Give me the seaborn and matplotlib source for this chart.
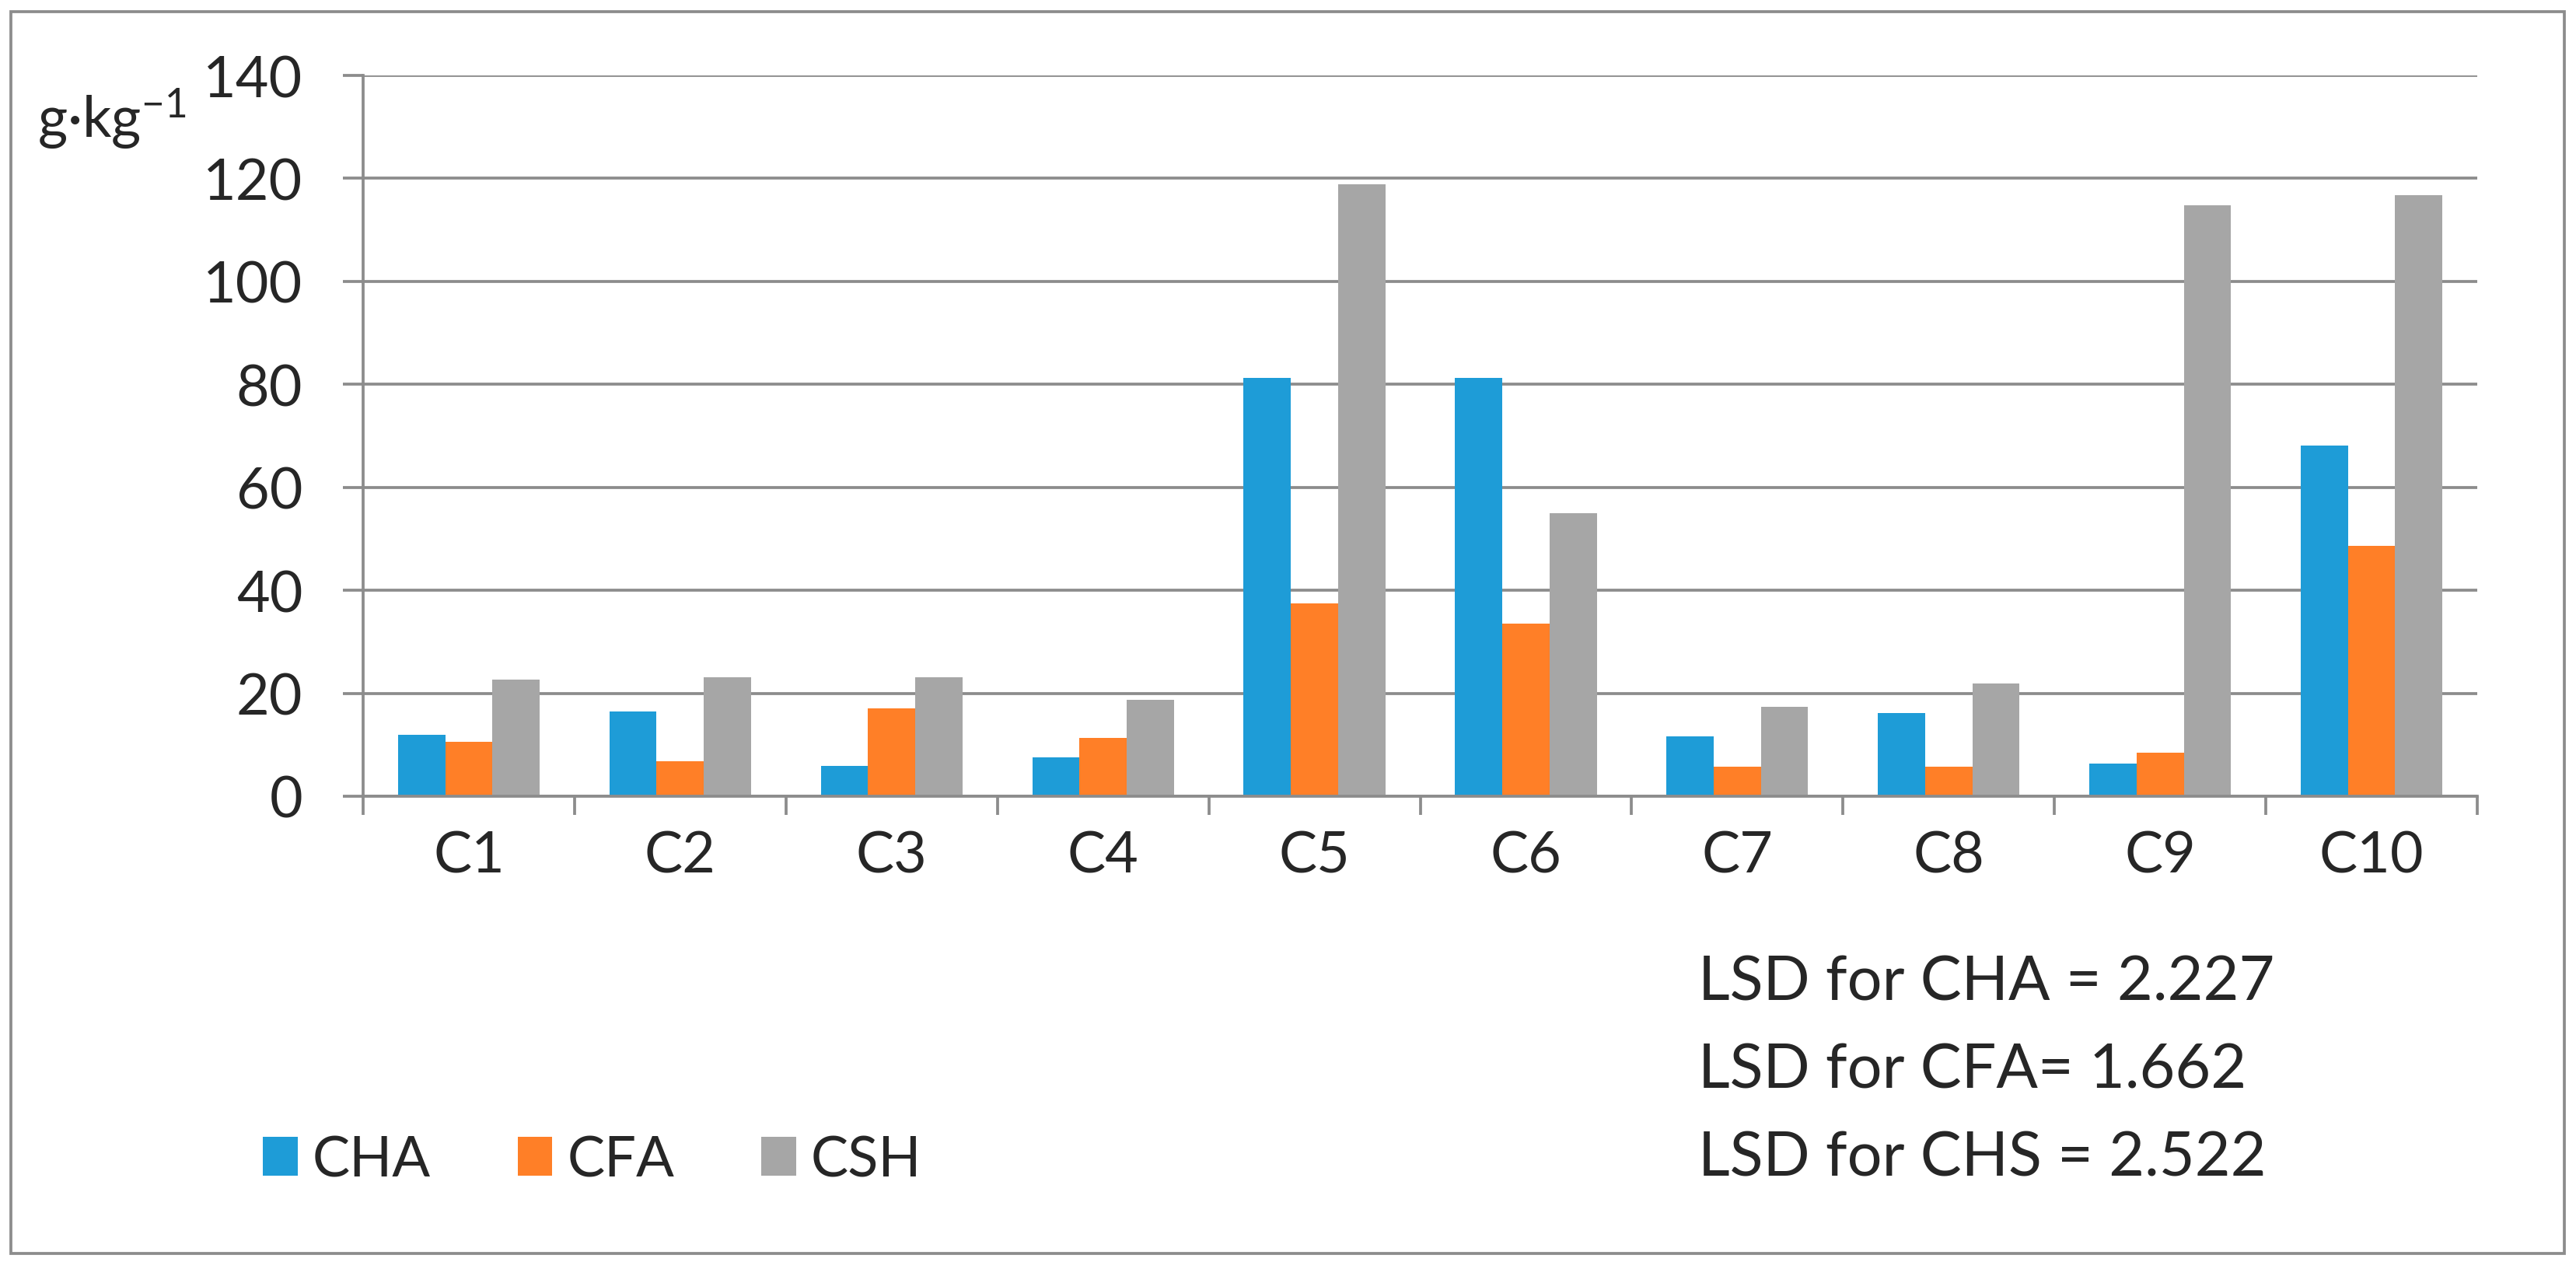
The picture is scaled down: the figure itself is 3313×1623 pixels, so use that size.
import pandas as pd
import matplotlib
matplotlib.use('Agg')
import matplotlib.pyplot as plt
import seaborn as sns
from matplotlib.patches import Rectangle

samples = ['C1', 'C2', 'C3', 'C4', 'C5', 'C6', 'C7', 'C8', 'C9', 'C10']
cha = [12.0, 16.4, 5.9, 7.6, 81.3, 81.2, 11.7, 16.1, 6.4, 68.1]
cfa = [10.6, 6.8, 17.1, 11.3, 37.5, 33.6, 5.7, 5.7, 8.4, 48.7]
csh = [22.7, 23.1, 23.1, 18.8, 118.8, 54.9, 17.3, 21.9, 114.8, 116.8]
series = ['CHA', 'CFA', 'CSH']
colors = ['#1e9cd7', '#ff7f27', '#a6a6a6']
yticks = [0, 20, 40, 60, 80, 100, 120, 140]
lsd_lines = ['LSD for CHA = 2.227', 'LSD for CFA= 1.662', 'LSD for CHS = 2.522']

df = pd.DataFrame({'sample': samples * 3,
                   'value': cha + cfa + csh,
                   'fraction': [s for s in series for _ in samples]})

sns.set_style('white')
plt.rcParams['font.family'] = ['Lato', 'DejaVu Sans']
plt.rcParams['mathtext.fontset'] = 'custom'
plt.rcParams['mathtext.rm'] = 'Lato'
plt.rcParams['mathtext.it'] = 'Lato'

W, H = 3313, 1624
fig = plt.figure(figsize=(W / 100, H / 100), dpi=100)
ax = fig.add_axes([467 / W, 1 - 1025 / H, (3186 - 467) / W, (1025 - 98) / H])

sns.barplot(data=df, x='sample', y='value', hue='fraction', order=samples,
            hue_order=series, palette=colors, saturation=1, width=0.67,
            gap=0, ax=ax, legend=True, linewidth=0, edgecolor='none')

grey = '#8c8c8c'
ax.set_xlim(-0.5, len(samples) - 0.5)
ax.set_ylim(0, 140)
ax.set_yticks(yticks)
ax.set_axisbelow(True)
ax.yaxis.grid(True, color=grey, linewidth=2.7)
ax.set_xlabel('')
ax.set_ylabel('')
for side in ['top', 'right']:
    ax.spines[side].set_visible(False)
for side in ['left', 'bottom']:
    ax.spines[side].set_color(grey)
    ax.spines[side].set_linewidth(2.7)

ax.set_xticks([i - 0.5 for i in range(len(samples) + 1)], minor=True)
ax.tick_params(axis='x', which='major', length=0, pad=31, labelsize=53)
ax.tick_params(axis='x', which='minor', length=17, width=2.7, color=grey,
               direction='out', bottom=True)
ax.tick_params(axis='y', length=19, width=2.7, color=grey, pad=37,
               labelsize=53, left=True)

handles, labels = ax.get_legend_handles_labels()
ax.legend_.remove()
fig.legend(handles, labels, loc='center left', ncol=3, frameon=False,
           bbox_to_anchor=(338 / W, 1 - 1493 / H), borderpad=0,
           borderaxespad=0, fontsize=52, handlelength=0.62,
           handleheight=0.68, handletextpad=0.26, columnspacing=1.55)

fig.text(48 / W, 1 - 177 / H, r'g·kg$^{-1}$', fontsize=53, va='baseline',
         ha='left')
for i, line in enumerate(lsd_lines):
    fig.text(2184 / W, 1 - (1287 + 113 * i) / H, line, fontsize=57,
             va='baseline', ha='left')

fig.patches.append(Rectangle((14 / W, 1 - 1613 / H), (3298 - 14) / W,
                             (1613 - 16) / H, transform=fig.transFigure,
                             fill=False, edgecolor=grey, linewidth=2.7))

fig.savefig('out.png', dpi=100)
